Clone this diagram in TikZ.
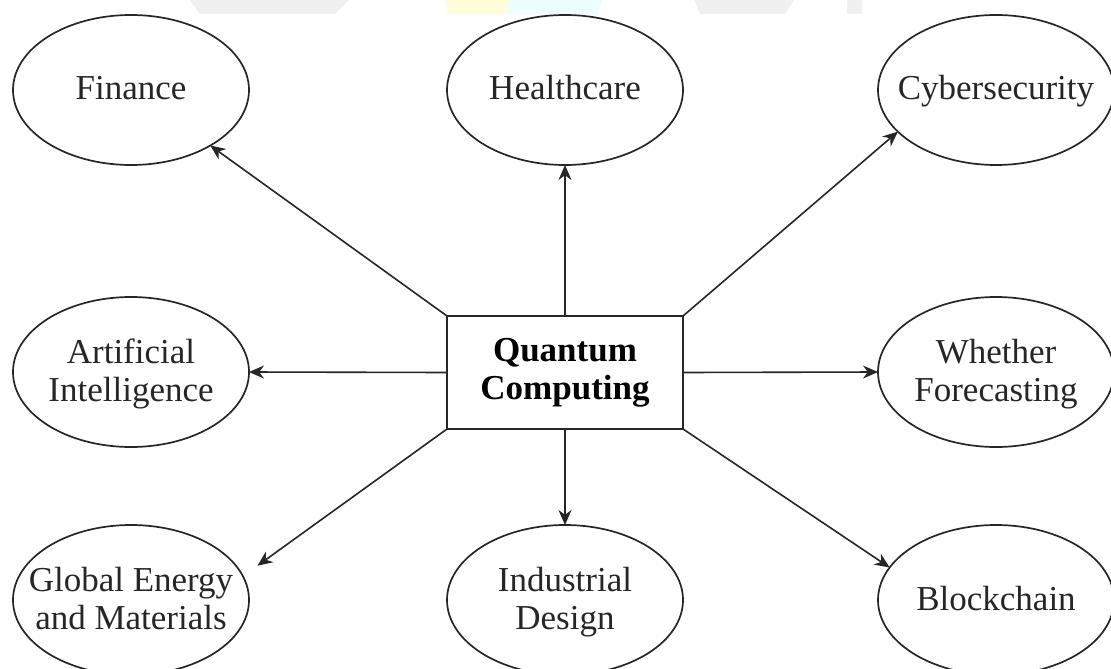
\documentclass[tikz,border=0pt]{standalone}
\usepackage{fontspec}
\setmainfont{Liberation Serif}
\usetikzlibrary{shapes.geometric,arrows.meta}
\newcommand\fixlbl[1]{\makebox[0pt]{\raisebox{-1.2pt}[\height][\depth]{\begin{tabular}{@{}c@{}}#1\end{tabular}}}}
\begin{document}
\begin{tikzpicture}[x=0.5pt,y=-0.5pt,
  app/.style={ellipse,draw=black!85,line width=0.85pt,minimum width=118pt,minimum height=75pt,inner sep=0pt,outer sep=0pt,font=\fontsize{17.5}{19}\selectfont,text=black!85},
  hub/.style={rectangle,draw=black!85,line width=0.85pt,minimum width=118pt,minimum height=56.5pt,inner sep=0pt,outer sep=0pt,align=center,font=\fontsize{17.5}{19}\selectfont\bfseries},
  link/.style={draw=black!85,line width=0.8pt,-{Stealth[length=7.5pt,width=6.5pt]}}]
\useasboundingbox (0,0) rectangle (1111,668);
% faint watermark remnants at the top edge
\fill[gray!12] (190,0) -- (349,0) -- (335,14) -- (200,14) -- cycle;
\fill[yellow!15] (445,0) -- (509,0) -- (505,14) -- (448,14) -- cycle;
\fill[green!8!cyan!8] (509,0) -- (602,0) -- (598,14) -- (505,14) -- cycle;
\fill[gray!12] (694,0) -- (794,0) -- (785,14) -- (700,14) -- cycle;
\fill[gray!12] (847,0) rectangle (862,14);

\node[hub] (q) at (565,372.5) {Quantum\\Computing};

\node[app] (fin) at (131,90) {\fixlbl{Finance}};
\node[app] (hc)  at (565,90) {\fixlbl{Healthcare}};
\node[app] (cyb) at (996,90) {\fixlbl{Cybersecurity}};
\node[app] (ai)  at (131,372) {\fixlbl{Artificial\\Intelligence}};
\node[app] (wf)  at (996,372) {\fixlbl{Whether\\Forecasting}};
\node[app] (ge)  at (131,600) {\fixlbl{Global Energy\\and Materials}};
\node[app] (ind) at (565,600) {\fixlbl{Industrial\\Design}};
\node[app] (bc)  at (996,600) {\fixlbl{Blockchain}};

\draw[link] (q.north west) -- (fin.325);
\draw[link] (q.north) -- (hc.south);
\draw[link] (q.north east) -- (cyb.203);
\draw[link] (q.west) -- (ai.east);
\draw[link] (q.east) -- (wf.west);
\draw[link,shorten >=9pt] (q.south west) -- (ge.12);
\draw[link] (q.south) -- (ind.north);
\draw[link] (q.south east) -- (bc.163);
\end{tikzpicture}
\end{document}
